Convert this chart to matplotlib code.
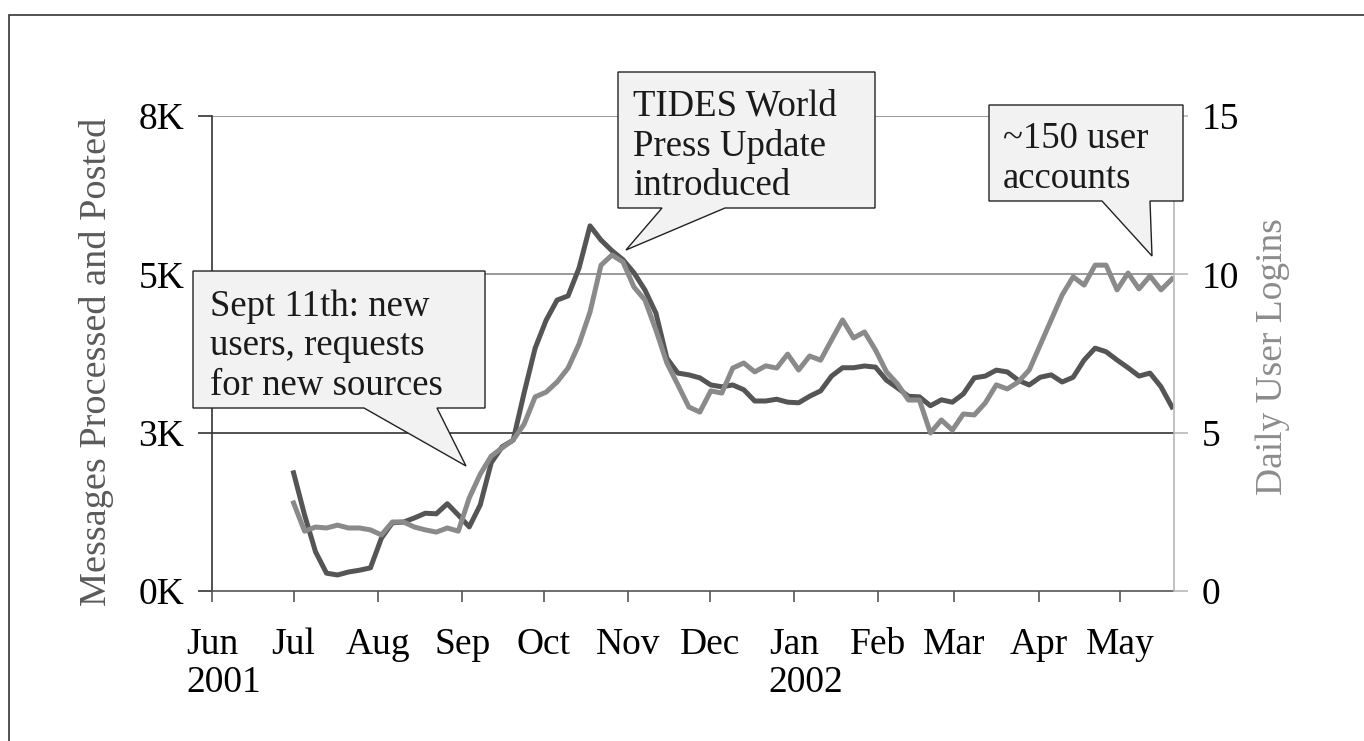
import numpy as np
import pandas as pd
import matplotlib
matplotlib.use('Agg')
import matplotlib.pyplot as plt
import matplotlib.dates as mdates
from matplotlib.patches import Polygon
from matplotlib.ticker import FixedLocator
import matplotlib.transforms as mtransforms

# data (one point roughly every 4 days)
dates = pd.date_range('2001-07-01', '2002-05-20', periods=81)

messages = [1990, 1280, 660, 300, 270, 320, 350, 390, 890, 1150,
            1160, 1230, 1310, 1300, 1470, 1280, 1080, 1450, 2160, 2430,
            2540, 3340, 4090, 4560, 4900, 4970, 5440, 6150, 5910, 5730,
            5580, 5360, 5070, 4680, 3920, 3670, 3640, 3590, 3470, 3440,
            3470, 3390, 3200, 3200, 3230, 3180, 3170, 3280, 3370, 3620,
            3760, 3760, 3790, 3770, 3550, 3420, 3280, 3270, 3120, 3220,
            3180, 3320, 3590, 3620, 3720, 3690, 3550, 3470, 3600, 3640,
            3520, 3600, 3890, 4090, 4030, 3890, 3760, 3620, 3670, 3440,
            3100]

logins = [2.78, 1.89, 2.02, 1.99, 2.08, 1.99, 1.99, 1.93, 1.77, 2.18,
          2.18, 2.02, 1.93, 1.86, 1.99, 1.89, 2.94, 3.69, 4.26, 4.52,
          4.77, 5.27, 6.13, 6.28, 6.60, 7.04, 7.80, 8.81, 10.29, 10.61,
          10.39, 9.60, 9.19, 8.24, 7.20, 6.51, 5.81, 5.65, 6.32, 6.25,
          7.04, 7.20, 6.92, 7.11, 7.04, 7.48, 6.98, 7.42, 7.29, 7.93,
          8.56, 7.99, 8.18, 7.61, 6.92, 6.54, 6.03, 6.03, 4.99, 5.40,
          5.08, 5.59, 5.56, 5.94, 6.51, 6.38, 6.60, 6.98, 7.77, 8.56,
          9.35, 9.92, 9.66, 10.29, 10.29, 9.51, 10.04, 9.54, 9.95, 9.51,
          9.85]

month_ticks = pd.date_range('2001-06-01', '2002-05-01', freq='MS')
month_labels = ['Jun', 'Jul', 'Aug', 'Sep', 'Oct', 'Nov', 'Dec',
                'Jan', 'Feb', 'Mar', 'Apr', 'May']
year_labels = {'2001-06-01': '2001', '2002-01-01': '2002'}

left_ticks = [0, 8000 / 3, 16000 / 3, 8000]
left_labels = ['0K', '3K', '5K', '8K']
right_ticks = [0, 5, 10, 15]

callouts = [
    (['Sept 11th: new', 'users, requests', 'for new sources'],
     (193, 271, 485, 408), (364, 437), (466, 466), 210, [316, 355, 395]),
    (['TIDES World', 'Press Update', 'introduced'],
     (618, 72, 875, 208), (662, 725), (626, 250), 633, [115, 156, 195]),
    (['~150 user', 'accounts'],
     (989, 105, 1183, 201), (1102, 1150), (1152, 256), 1003, [148, 188]),
]

W, H = 1364, 741
FONT = 'Liberation Serif'
plt.rcParams['font.family'] = [FONT, 'DejaVu Serif']

dark = '#555555'
light = '#8a8a8a'

fig = plt.figure(figsize=(W / 100, H / 100), dpi=100)
ax = fig.add_axes([212 / W, 1 - 591 / H, (1174 - 212) / W, (591 - 116) / H])
ax2 = ax.twinx()

ax.plot(dates, messages, color=dark, lw=3.6, solid_joinstyle='round')
ax2.plot(dates, logins, color=light, lw=3.6, solid_joinstyle='round')

ax.set_xlim(pd.Timestamp('2001-06-01'), pd.Timestamp('2002-05-20 18:00'))
ax.set_ylim(0, 8000)
ax2.set_ylim(0, 15)

ax.xaxis.set_major_locator(FixedLocator(mdates.date2num(month_ticks)))
ax.set_xticklabels(month_labels)
ax.set_yticks(left_ticks)
ax.set_yticklabels(left_labels)
ax2.set_yticks(right_ticks)

ax.yaxis.grid(True, lw=1.2)
for gl, c in zip(ax.get_ygridlines(), ['none', '#333333', '#888888', '#888888']):
    gl.set_color(c)

for s in ['top', 'right']:
    ax.spines[s].set_visible(False)
for s in ['top', 'left', 'bottom']:
    ax2.spines[s].set_visible(False)
ax.spines['left'].set_color('#333333')
ax.spines['bottom'].set_color('#555555')
ax2.spines['right'].set_color('#b8b8b8')
for s in [ax.spines['left'], ax.spines['bottom'], ax2.spines['right']]:
    s.set_linewidth(1.2)

ax.tick_params(axis='y', direction='out', length=10, width=1.2, color='#333333',
               pad=10, labelsize=27)
ax.tick_params(axis='x', direction='out', length=8, width=1.2, color='#555555',
               pad=18, labelsize=27)
ax2.tick_params(axis='y', direction='out', length=10, width=1.2, color='#b8b8b8',
                pad=10, labelsize=27)

# year under Jun / Jan, left aligned with the month name
ytrans = mtransforms.blended_transform_factory(ax.transData, fig.transFigure)
ytrans = ytrans + mtransforms.ScaledTranslation(-0.26, 0, fig.dpi_scale_trans)
for d, lab in year_labels.items():
    ax.text(mdates.date2num(pd.Timestamp(d)), 1 - 692 / H, lab, transform=ytrans,
            ha='left', va='baseline', fontsize=27)

fig.text(97 / W, 1 - 362 / H, 'Messages Processed and Posted', rotation=90,
         ha='center', va='center', fontsize=27.5, color='#5a5a5a')
fig.text(1273 / W, 1 - 357 / H, 'Daily User Logins', rotation=90,
         ha='center', va='center', fontsize=27, color='#8c8c8c')

# callout boxes
for lines, (x0, y0, x1, y1), (b0, b1), (tx, ty), textx, bases in callouts:
    pts = [(x0, y0), (x1, y0), (x1, y1), (b1, y1), (tx, ty), (b0, y1), (x0, y1)]
    pts = [(px / W, 1 - py / H) for px, py in pts]
    fig.patches.append(Polygon(pts, closed=True, transform=fig.transFigure,
                               facecolor='#f2f2f2', edgecolor='#222222',
                               lw=1.0, zorder=5))
    for line, by in zip(lines, bases):
        fig.text(textx / W, 1 - by / H, line, ha='left', va='baseline',
                 fontsize=26.5, color='#1a1a1a', zorder=6)

# outer frame (top and left edges visible)
fig.patches.append(plt.Rectangle((9 / W, -0.1), 1.2, 1 - 15 / H + 0.1,
                                 transform=fig.transFigure, fill=False,
                                 edgecolor='#333333', lw=1.2, zorder=1))

fig.savefig('out.png', dpi=100)
